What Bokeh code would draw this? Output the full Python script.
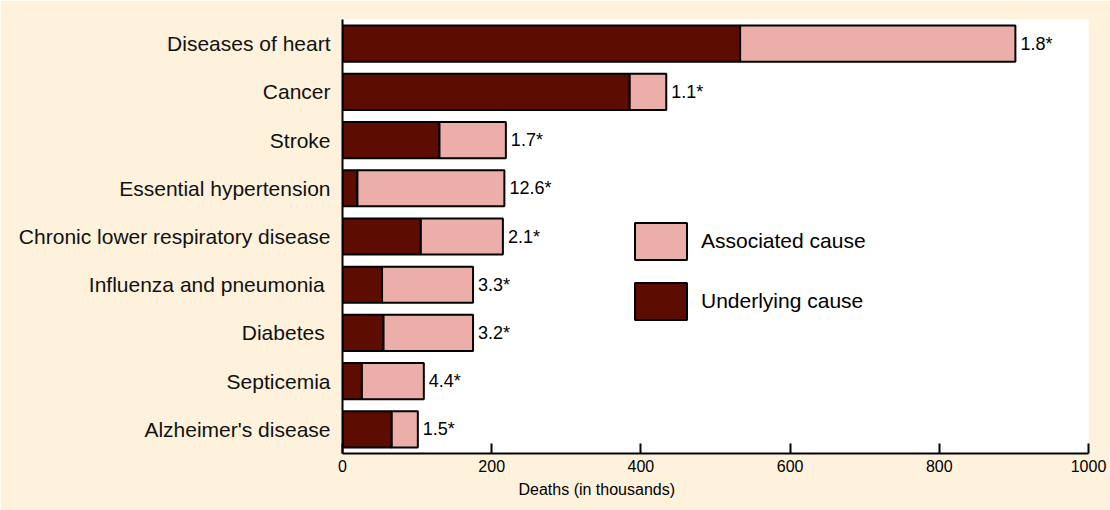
from bokeh.plotting import figure
from bokeh.models import ColumnDataSource, FactorRange, Range1d, Legend, LegendItem, Title, FixedTicker
from bokeh.core.properties import value
from bokeh.embed import file_html
from bokeh.resources import INLINE

# ---- data (deaths in thousands) ----
causes = ["Diseases of heart", "Cancer", "Stroke", "Essential hypertension",
          "Chronic lower respiratory disease", "Influenza and pneumonia ",
          "Diabetes ", "Septicemia", "Alzheimer's disease"]
underlying = [533, 385, 130, 20, 105, 53, 55, 26, 66]
associated = [369, 49, 89, 197, 110, 122, 120, 83, 35]
ratios = ["1.8*", "1.1*", "1.7*", "12.6*", "2.1*", "3.3*", "3.2*", "4.4*", "1.5*"]
x_ticks = [0, 200, 400, 600, 800, 1000]
x_title = "Deaths (in thousands)"

totals = [u + a for u, a in zip(underlying, associated)]

BG = "#FEF2DC"
DARK = "#5C0C00"
PINK = "#ECAEA8"
FONT = "Liberation Sans"

src = ColumnDataSource(dict(cause=causes, under=underlying, total=totals,
                            zero=[0] * len(causes), ratio=ratios))

p = figure(width=1110, height=510, output_backend="svg", toolbar_location=None,
           y_range=FactorRange(factors=list(reversed(causes))),
           x_range=Range1d(0, 1000),
           min_border_left=342, min_border_right=22, min_border_top=19,
           min_border_bottom=57)
p.background_fill_color = "white"
p.border_fill_color = BG
p.outline_line_color = None
p.grid.visible = False

r_under = p.hbar(y="cause", left="zero", right="under", height=0.75, source=src,
                 fill_color=DARK, line_color="black", line_width=2)
r_assoc = p.hbar(y="cause", left="under", right="total", height=0.75, source=src,
                 fill_color=PINK, line_color="black", line_width=2)

p.text(x="total", y="cause", text="ratio", source=src, x_offset=5,
       text_align="left", text_baseline="middle", text_font=value(FONT),
       text_font_size="18px", text_color="black")

# x axis
xa = p.xaxis[0]
xa.ticker = FixedTicker(ticks=x_ticks)
xa.major_tick_in = 10
xa.major_tick_out = 0
xa.minor_tick_line_color = None
xa.axis_line_width = 2
xa.major_tick_line_width = 2
xa.axis_line_color = "black"
xa.major_tick_line_color = "black"
xa.major_label_text_font = FONT
xa.major_label_text_font_size = "16px"
xa.major_label_text_color = "black"
xa.major_label_standoff = 6

# y axis
ya = p.yaxis[0]
ya.major_tick_in = 0
ya.major_tick_out = 0
ya.minor_tick_line_color = None
ya.axis_line_width = 2
ya.axis_line_color = "black"
ya.major_label_text_font = FONT
ya.major_label_text_font_size = "21px"
ya.major_label_text_color = "#111111"
ya.major_label_standoff = 12

# x axis title (left of centre as in the reference)
p.add_layout(Title(text=x_title, align="left", offset=176,
                   text_font=FONT, text_font_size="16px", text_font_style="normal",
                   text_color="black", standoff=8), "below")

legend = Legend(items=[LegendItem(label="Associated cause", renderers=[r_assoc]),
                       LegendItem(label="Underlying cause", renderers=[r_under])],
                location=(286, 129), glyph_width=65, glyph_height=46,
                label_standoff=8, spacing=14, padding=0, margin=0,
                border_line_color=None, background_fill_alpha=0,
                label_text_font=FONT, label_text_font_size="21px",
                label_text_color="black")
p.add_layout(legend)

html = file_html(p, INLINE)
html = html.replace("<body>", '<body style="background-color:%s;">' % BG, 1)
open("out.html", "w").write(html)
